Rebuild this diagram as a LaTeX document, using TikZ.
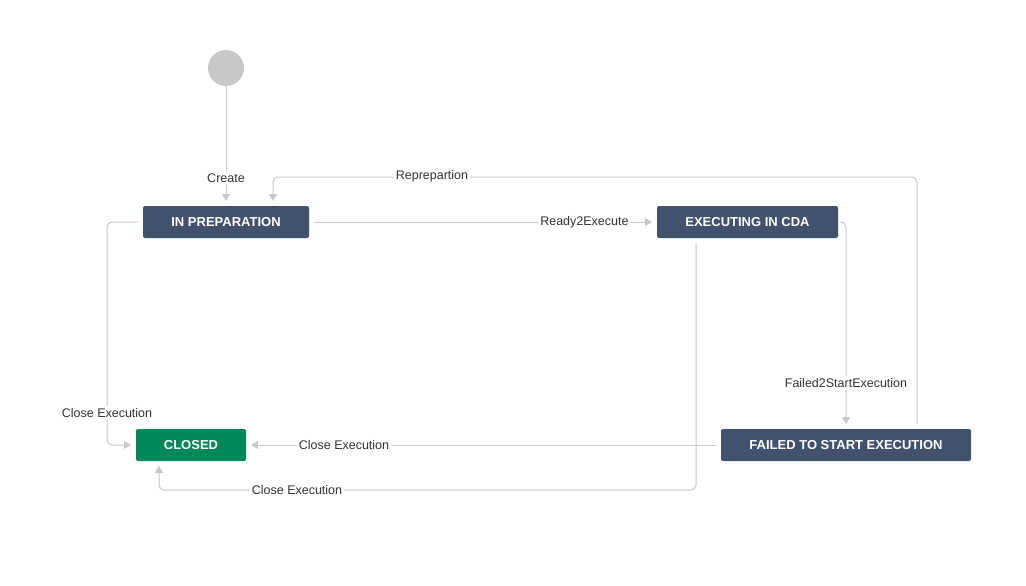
\documentclass[tikz,border=0pt]{standalone}
\usepackage{fontspec}
\setmainfont{Liberation Sans}
\usetikzlibrary{arrows.meta}
\definecolor{boxblue}{HTML}{42526E}
\definecolor{boxgreen}{HTML}{00875A}
\definecolor{linegray}{HTML}{C8C8C8}
\definecolor{txt}{HTML}{333333}
\tikzset{
  state/.style={fill=#1,rounded corners=2pt,text=white,font=\fontsize{13}{15}\selectfont\bfseries,inner sep=0pt},
  edge/.style={draw=linegray,line width=1pt,rounded corners=5pt,-{Triangle[length=7pt,width=8pt]}},
  lbl/.style={fill=white,text=txt,font=\fontsize{12.5}{14}\selectfont,inner sep=2pt}
}
\begin{document}
\begin{tikzpicture}[x=1pt,y=-1pt]
\useasboundingbox (0,0) rectangle (1026,586);
\fill[white] (0,0) rectangle (1026,586);
\node[circle,fill=linegray,minimum size=36pt,inner sep=0pt] (start) at (226,68) {};
\node[state=boxblue,minimum width=166pt,minimum height=32pt] (prep) at (226,222) {IN PREPARATION};
\node[state=boxblue,minimum width=181pt,minimum height=32pt] (exec) at (747.5,222) {EXECUTING IN CDA};
\node[state=boxgreen,minimum width=110pt,minimum height=32pt] (closed) at (191,445) {CLOSED};
\node[state=boxblue,minimum width=250pt,minimum height=32pt] (failed) at (846,445) {FAILED TO START EXECUTION};
\coordinate (pt) at (226,201);
\coordinate (pl) at (138,222);
\coordinate (pr) at (314,222);
\coordinate (et) at (652,222);
\coordinate (er) at (843,222);
\coordinate (eb) at (696,243);
\coordinate (ft) at (846,424);
\coordinate (fr) at (917,424);
\coordinate (fl) at (716,445);
\coordinate (cl) at (131,445);
\coordinate (cr) at (251,445);
\coordinate (cb) at (159,466);
\coordinate (rt) at (273,201);
\coordinate (st) at (226,86);
\draw[edge] (st) -- (pt) node[lbl,pos=0.8] {Create};
\draw[edge] (fr) |- (273,177) -- (rt);
\node[lbl] at (432,176) {Reprepartion};
\draw[edge] (pr) -- (et) node[lbl,pos=0.8] {Ready2Execute};
\draw[edge] (er) -- (846,222) -- (ft);
\node[lbl] at (846,383) {Failed2StartExecution};
\draw[edge] (pl) -- (107,222) |- (cl);
\node[lbl] at (107,413) {Close Execution};
\draw[edge] (fl) -- (cr) node[lbl,pos=0.8] {Close Execution};
\draw[edge] (eb) |- (159,490) -- (cb);
\node[lbl] at (297,490) {Close Execution};
\end{tikzpicture}
\end{document}
